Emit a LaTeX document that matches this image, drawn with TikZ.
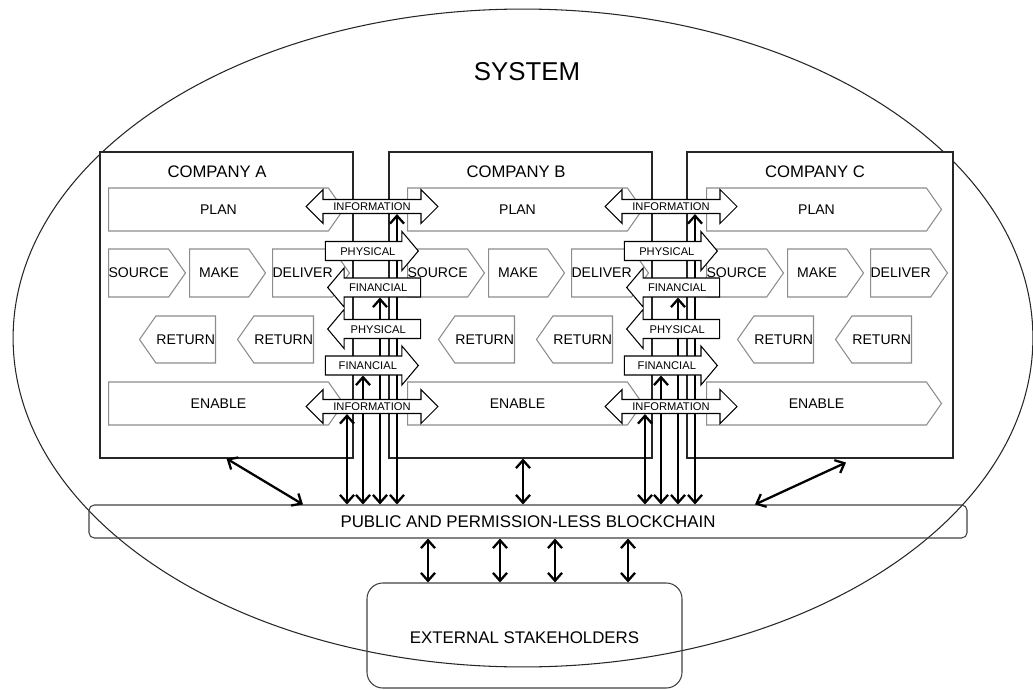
\documentclass[tikz,border=0pt]{standalone}
\usepackage{fontspec}
\setmainfont{Liberation Sans}
\usetikzlibrary{shapes.geometric, shapes.symbols, shapes.arrows, arrows.meta, positioning, fit, calc}
\pgfdeclarelayer{front}
\pgfsetlayers{main,front}

\begin{document}
\begin{tikzpicture}[x=0.02cm, y=-0.02cm]

    % Define styles
    \tikzstyle{system} = [ellipse, draw=black!85, line width=0.6pt, minimum width=20.4cm, minimum height=13.16cm]
    \tikzstyle{company} = [rectangle, draw=black!85, fill=white, line width=0.6pt, inner sep=0pt]
    \tikzstyle{cotitle} = [font=\fontsize{9.5}{11}\selectfont]
    \tikzstyle{process} = [signal, signal from=nowhere, draw=black!45, fill=white, line width=0.6pt, inner sep=0pt, signal pointer angle=110, font=\fontsize{8}{10}\selectfont]
    \tikzstyle{fwd} = [process, signal to=east, anchor=west, minimum width=1.52cm, minimum height=0.96cm]
    \tikzstyle{back} = [process, signal to=west, anchor=east, minimum width=1.52cm, minimum height=0.94cm]
    \tikzstyle{wide} = [process, signal to=east, anchor=west, minimum width=4.7cm, minimum height=0.86cm]
    \tikzstyle{flow} = [single arrow, draw, fill=white, line width=0.6pt, inner xsep=1pt, inner ysep=0pt, text height=7.4pt, text depth=2.8pt, single arrow head extend=0.2cm, single arrow tip angle=100, minimum height=1.86cm, anchor=tip, font=\fontsize{6.35}{7}\selectfont]
    \tikzstyle{info} = [double arrow, draw, fill=white, line width=0.6pt, inner xsep=1pt, inner ysep=0pt, text height=5.96pt, text depth=1.41pt, double arrow head extend=0.2cm, minimum height=2.64cm, font=\fontsize{6.35}{7}\selectfont]
    \tikzstyle{chain} = [rectangle, draw=black!75, line width=0.6pt, inner sep=0pt]
    \tikzstyle{chaintext} = [font=\fontsize{9.6}{11}\selectfont]
    \tikzstyle{link} = [{Straight Barb[length=4.5pt,width=8pt]}-{Straight Barb[length=4.5pt,width=8pt]}, line width=1.3pt]

    \useasboundingbox (0,0) rectangle (1033,689);

    % System
    \node [system] (sys) at (523,338) {};
    \node [font=\fontsize{14.7}{17}\selectfont] (systitle) at (527,72) {SYSTEM};

    % Companies
    \foreach \c/\l/\r/\s in {A/100/353/108, B/389/652/407, C/687/953/706} {
        \node [company, fit={(\l,152) (\r,458)}] (co\c) {};
        \node [cotitle] (title\c) at (\s+109,172) {COMPANY \c};
        \node [wide] (plan\c) at (\s,209.5) {PLAN};
        \node [fwd] (src\c) at (\s,273) {SOURCE};
        \node [fwd] (make\c) at (\s+81,273) {MAKE};
        \node [fwd] (dlv\c) at (\s+164,273) {DELIVER};
        \node [back] (retA\c) at (\s+108,339.5) {RETURN};
        \node [back] (retB\c) at (\s+206,339.5) {RETURN};
        \node [wide] (enable\c) at (\s,403.5) {ENABLE};
    }

    % Blockchain and stakeholders
    \node [chain, rounded corners=3pt, fit={(89,505) (967,538)},
           label={[chaintext]center:PUBLIC AND PERMISSION-LESS BLOCKCHAIN}] (bc) {};
    \node [chain, rounded corners=9pt, fit={(367,583) (682,688)},
           label={[chaintext, yshift=-1.4pt]center:EXTERNAL STAKEHOLDERS}] (ext) {};

    % Flows between companies
    \begin{pgfonlayer}{front}
    \foreach \g/\o in {1/0, 2/299} {
        \node [info] (infoTop\g) at (372+\o,206.5) {INFORMATION};
        \node [flow] (physT\g) at (419+\o,251) {PHYSICAL};
        \node [flow, shape border rotate=180] (finT\g) at (327+\o,287.5) {FINANCIAL};
        \node [flow, shape border rotate=180] (physB\g) at (327+\o,329) {PHYSICAL};
        \node [flow] (finB\g) at (419+\o,365.5) {FINANCIAL};
        \node [info] (infoBot\g) at (372+\o,406.5) {INFORMATION};
    }
    \end{pgfonlayer}

    % Columns for the links
    \foreach \g/\o in {1/0, 2/298} {
        \coordinate (ka\g) at (347+\o,0);
        \coordinate (kb\g) at (363+\o,0);
        \coordinate (kc\g) at (380+\o,0);
        \coordinate (kd\g) at (397+\o,0);
    }
    \foreach \i/\x in {1/428, 2/500, 3/555, 4/628}
        \coordinate (ke\i) at (\x,0);
    \coordinate (kl) at (303,0);
    \coordinate (km) at (523,0);
    \coordinate (kr) at (755,0);

    % Draw edges
    \foreach \g in {1,2} {
        \draw [link] (bc.north -| ka\g) -- (ka\g |- infoBot\g.south);
        \draw [link] (bc.north -| kb\g) -- (kb\g |- finB\g.south);
        \draw [link] (bc.north -| kc\g) -- (kc\g |- finT\g.south);
        \draw [link] (bc.north -| kd\g) -- (kd\g |- infoTop\g.south);
    }
    \draw [link] (coA.south) -- (bc.north -| kl);
    \draw [link] ($(coC.south)+(26,4)$) -- (bc.north -| kr);
    \draw [link] (coB.south -| km) -- (bc.north -| km);
    \foreach \i in {1,...,4}
        \draw [link] (bc.south -| ke\i) -- (ext.north -| ke\i);

\end{tikzpicture}
\end{document}
